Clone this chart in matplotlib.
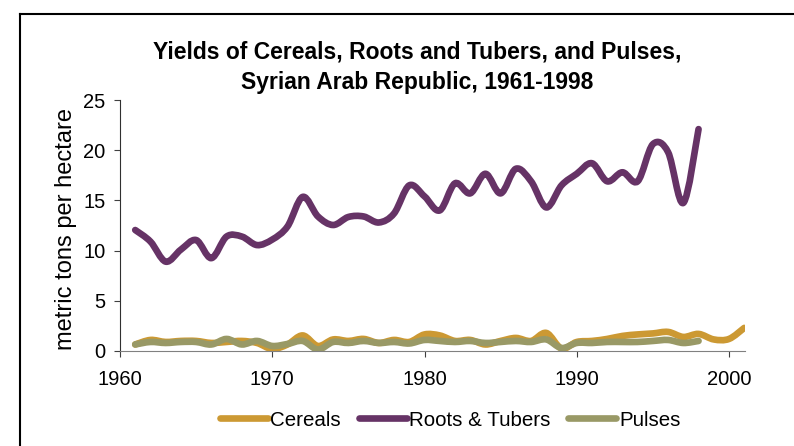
import numpy as np
import matplotlib
matplotlib.use("Agg")
import matplotlib.pyplot as plt
from matplotlib.path import Path
from matplotlib.patches import PathPatch
from matplotlib.lines import Line2D

plt.rcParams['font.family'] = ['Liberation Sans', 'DejaVu Sans']

# --- Data ---
years_cereals = list(range(1961, 2002))
cereals = [0.65, 1.1, 0.9, 1.0, 1.0, 0.8, 0.9, 1.0, 0.8, 0.2,
           0.65, 1.55, 0.5, 1.15, 1.0, 1.2, 0.8, 1.1, 0.9, 1.65,
           1.55, 1.0, 1.1, 0.65, 1.0, 1.3, 1.0, 1.8, 0.25, 0.9,
           1.0, 1.2, 1.5, 1.65, 1.75, 1.9, 1.4, 1.7, 1.15, 1.2,
           2.3]

years = list(range(1961, 1999))
roots = [12.05, 10.9, 8.9, 10.1, 11.05, 9.25, 11.4, 11.4, 10.55, 11.1,
         12.4, 15.35, 13.4, 12.55, 13.35, 13.4, 12.8, 13.7, 16.5, 15.4,
         14.0, 16.7, 15.7, 17.65, 15.7, 18.15, 16.9, 14.3, 16.5, 17.65,
         18.7, 16.9, 17.8, 16.9, 20.6, 19.8, 14.75, 22.1]
pulses = [0.65, 0.9, 0.8, 0.9, 0.9, 0.65, 1.2, 0.65, 1.0, 0.5,
          0.7, 1.0, 0.15, 0.9, 0.8, 1.0, 0.8, 0.9, 0.75, 1.1,
          1.0, 0.9, 1.0, 0.8, 0.9, 1.0, 0.9, 1.15, 0.3, 0.8,
          0.8, 0.9, 0.9, 0.9, 1.0, 1.1, 0.8, 1.0]

series_names = ["Cereals", "Roots & Tubers", "Pulses"]
colors = ["#CC9933", "#663366", "#999966"]

W, H = 794, 446


def smooth_path(x, y):
    """Excel-style smoothed line: Catmull-Rom segments drawn as cubic Beziers."""
    pts = np.column_stack([np.asarray(x, float), np.asarray(y, float)])
    verts = [pts[0]]
    codes = [Path.MOVETO]
    n = len(pts)
    for i in range(n - 1):
        p0 = pts[i - 1] if i > 0 else pts[i]
        p1 = pts[i]
        p2 = pts[i + 1]
        p3 = pts[i + 2] if i + 2 < n else pts[i + 1]
        verts += [p1 + (p2 - p0) / 6.0, p2 - (p3 - p1) / 6.0, p2]
        codes += [Path.CURVE4] * 3
    return Path(verts, codes)


fig = plt.figure(figsize=(W / 100, H / 100), dpi=100)
ax = fig.add_axes([120 / W, 1 - 351 / H, 625 / W, 251 / H])

lw = 4.8
for xs, ys, c in [(years_cereals, cereals, colors[0]),
                  (years, roots, colors[1]),
                  (years, pulses, colors[2])]:
    ax.add_patch(PathPatch(smooth_path(xs, ys), facecolor="none", edgecolor=c,
                           lw=lw, capstyle="round", joinstyle="round"))

ax.set_xlim(1960, 2001.05)
ax.set_ylim(0, 25)
ax.set_xticks([1960, 1970, 1980, 1990, 2000])
ax.set_yticks([0, 5, 10, 15, 20, 25])
ax.tick_params(axis="both", labelsize=14.5, direction="out", length=4.5,
               width=0.8, colors="#404040", labelcolor="black")
ax.tick_params(axis="x", pad=9)
ax.tick_params(axis="y", pad=6)
ax.spines["top"].set_visible(False)
ax.spines["right"].set_visible(False)
ax.spines["left"].set_color("#303030")
ax.spines["bottom"].set_color("#808080")

fig.text(66 / W, 1 - 229 / H, "metric tons per hectare", rotation=90,
         ha="center", va="center", fontsize=17)

# title, two lines placed by baseline
fig.text(417 / W, 1 - 59 / H, "Yields of Cereals, Roots and Tubers, and Pulses,",
         ha="center", va="baseline", fontsize=16.5, fontweight="bold")
fig.text(417 / W, 1 - 89 / H, "Syrian Arab Republic, 1961-1998",
         ha="center", va="baseline", fontsize=16.5, fontweight="bold")

handles = [Line2D([], [], color=c, lw=lw, solid_capstyle="round") for c in colors]
fig.legend(handles, series_names, loc="center", bbox_to_anchor=(450 / W, 1 - 420 / H),
           ncol=3, frameon=False, fontsize=14.8, handlelength=2.35, handletextpad=0.12,
           columnspacing=0.85, borderpad=0, borderaxespad=0)

# outer frame (only left and top edges are visible in the crop)
fx, fy = 20 / W, 1 - 14 / H
fig.add_artist(Line2D([fx, fx], [0, fy], color="black", lw=1.5, transform=fig.transFigure))
fig.add_artist(Line2D([fx, 1], [fy, fy], color="black", lw=1.5, transform=fig.transFigure))

fig.savefig("out.png", dpi=100)
